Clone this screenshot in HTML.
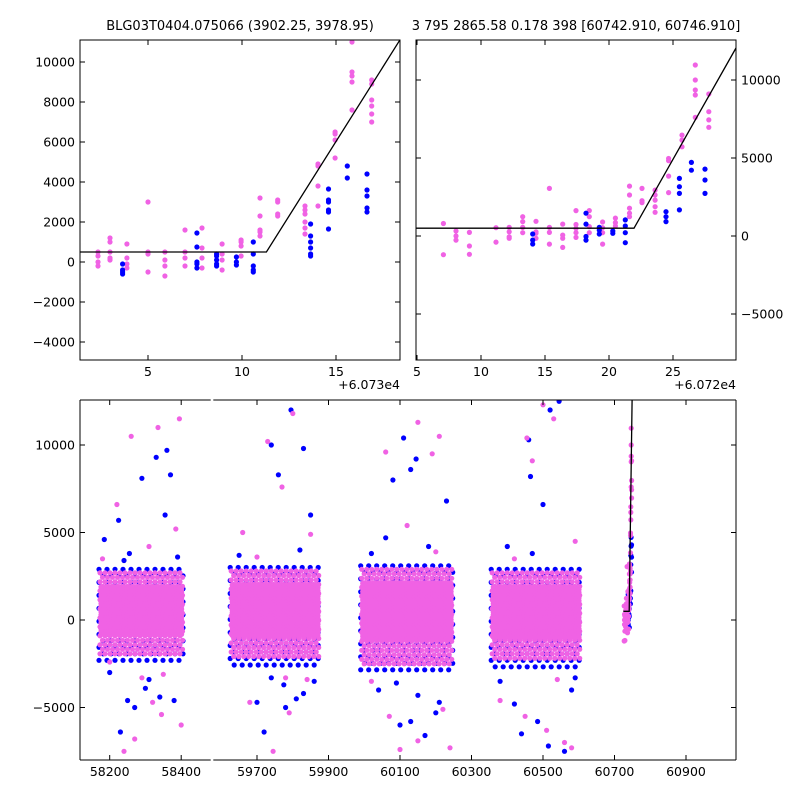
<!DOCTYPE html>
<html><head><meta charset="utf-8"><style>
html,body{margin:0;padding:0;background:#fff}
svg{display:block;font-family:"DejaVu Sans","Liberation Sans",sans-serif}
</style></head><body>
<svg id="fig" width="800" height="800" viewBox="0 0 800 800" xmlns="http://www.w3.org/2000/svg">
<rect width="800" height="800" fill="#fff"/>
<defs>
<clipPath id="cTL"><rect x="80" y="40" width="320" height="320"/></clipPath>
<clipPath id="cTR"><rect x="416" y="40" width="320" height="320"/></clipPath>
<clipPath id="cB"><rect x="80" y="400" width="656" height="360"/></clipPath>
</defs>
<text x="240" y="30" font-size="13" text-anchor="middle">BLG03T0404.075066 (3902.25, 3978.95)</text>
<text x="576" y="30" font-size="13" text-anchor="middle">3 795 2865.58 0.178 398 [60742.910, 60746.910]</text>
<g id="gTL"></g>
<g id="gTR"></g>
<g id="gB"></g>
</svg>
<script>
// ---- data: top-left zoom panel (offset 60730) ----
const tlPinkX=[2.34,2.98,3.88,5.0,5.9,6.97,7.87,8.94,9.95,10.96,11.9,13.35,14.04,14.95,15.85,16.9];
const tlPinkY=[[500,300,-200,0],[1200,1000,500,200,100],[900,200,-100,-300],[3000,500,400,-500],[500,100,-200,-700],[1600,500,200,-200],[1700,700,200,-300],[900,400,100,-400],[1100,1000,800,300],[3200,2300,1600,1500,1300],[3100,3000,2400,2300],[2800,2600,2400,2000,1700,1400],[4900,4800,3800,2800],[6500,6400,6100,5200],[11000,9500,9300,9000,7600],[9100,8900,8100,7800,7400,7000]];
const tlBlueX=[3.65,7.6,8.65,9.7,10.6,13.65,14.6,15.6,16.65];
const tlBlueY=[[-100,-400,-500,-600],[1450,750,0,-100,-300],[400,300,100,-100,-200],[250,0,-150],[1000,400,-200,-400,-500],[1900,1300,1000,700,400,300],[3650,3100,3000,2600,2500,1650],[4800,4200],[4400,3600,3300,2700,2500]];
const tlFit=[[1.38,500],[11.3,500],[18.4,11100]];
// ---- data: top-right zoom panel (offset 60720) ----
const trPinkX=[7.06,8.05,9.09,11.17,12.2,13.26,14.3,15.34,16.38,17.42,18.46,19.5,20.5,21.6,22.58,23.6,24.66,25.7,26.74,27.8];
const trPinkY=[[800,-1200],[320,0,-260],[230,-640,-1170],[530,-390],[550,270,-50,-150],[1240,920,550,210],[940,270,170,-150],[3050,550,230,-520],[760,60,-150,-730],[1630,740,490,210,-90],[1630,1240,600,210],[900,530,210,-520],[1150,860,640],[3200,2630,1780,1460,1240],[3050,2260,2140],[2940,2630,2300,1880,1520],[4970,4830,3840,2780],[6470,6150,5720],[10960,10000,9360,9040,7600],[9100,7970,7440,6970]];
const trBlueX=[14.04,18.2,19.24,20.3,21.27,24.45,25.5,26.44,27.5];
const trBlueY=[[130,-260,-510],[1460,760,-30,-260],[550,380,130],[320,170],[1030,640,210,-430],[1560,1240,920],[3690,3160,2730,1670],[4720,4220],[4290,3590,2730]];
const trFit=[[4.92,500],[21.95,500],[29.92,12050]];
// ---- data: bottom full light curve ----
const seasonStart=[58170,59625,59990,60355];
const seasonEnd=[58410,59880,60250,60610];
const coreLow=[-900,-1000,-1100,-1000];
const coreHigh=[1900,2000,2100,1900];
const haloLow=[-2000,-2300,-2500,-2200];
const haloHigh=[2700,2800,2900,2700];
const blueLow=[-2600,-2900,-3100,-2700];
const blueHigh=[2900,3000,3100,2900];
const outBlueX=[58185,58225,58255,58290,58330,58360,58370,58355,58340,58300,58250,58230,58270,58380,58200,58240,58310,58390,59720,59700,59740,59760,59795,59830,59850,59810,59830,59860,59775,59780,59650,59740,59820,60110,60145,60130,60080,60060,60100,60170,60200,60130,60230,60040,60210,60150,60020,60090,60180,60460,60520,60545,60465,60500,60440,60485,60515,60420,60560,60580,60400,60380,60470,60590];
const outBlueY=[4600,5700,3800,8100,9300,9700,8300,6000,-4400,-3900,-4600,-6400,-5000,-4600,-3000,3400,-3400,3600,-6400,-4700,10000,8300,12000,9800,6000,-4500,-4200,-3500,-3700,-5000,3700,-3300,4000,10400,9200,8600,8000,4700,-6000,-6600,-5300,-5800,6800,-4000,-4700,-4300,3800,-3600,4200,10300,12000,12500,8200,6600,-6500,-5800,-7200,-4800,-7500,-4000,4200,-3500,3800,-3300];
const outPinkX=[58260,58335,58395,58220,58310,58385,58240,58270,58345,58400,58320,58200,58290,58180,58350,59730,59770,59800,59745,59790,59680,59840,59660,59850,59700,59780,60150,60190,60210,60060,60100,60150,60240,60220,60070,60120,60020,60200,60455,60500,60530,60470,60450,60560,60580,60510,60380,60590,60420,60540];
const outPinkY=[10500,11000,11500,6600,4200,5200,-7500,-6800,-5400,-6000,-4700,-2400,-3300,3500,-3100,10200,7600,11800,-7500,-5300,-4700,-3400,5000,4900,3600,-3300,11300,9500,10500,9600,-7400,-6900,-7300,-5100,-5500,5400,-3500,3900,10400,12300,11500,9100,-5500,-7000,-7300,-6300,-4600,4500,3500,-3400];
const bFit=[[60724.9,500],[60741,500],[60749.5,13000]];

const NS='http://www.w3.org/2000/svg';
const BLUE='#0000ff', PINK='#f062e4';
function mk(tag,attrs,parent){const e=document.createElementNS(NS,tag);for(const k in attrs)e.setAttribute(k,attrs[k]);parent.appendChild(e);return e;}
function lin(d0,d1,p0,p1){return v=>p0+(v-d0)*(p1-p0)/(d1-d0);}

const tlX=lin(5,15,148,336), tlY=lin(0,10000,262,62);
const trX=lin(5,25,417,673), trY=lin(0,10000,236,80);
const bY=lin(0,10000,620,445);
const bX=v=> v<59000 ? 109.7+(v-58200)*0.3575 : 257+(v-59700)*0.3575;

function dot(g,x,y,c,name){const e=mk('circle',{cx:x.toFixed(1),cy:y.toFixed(1),r:2.6,fill:c},g);

return e;}

function frame(g,x0,y0,w,h){const r=mk('rect',{x:x0,y:y0,width:w,height:h,fill:'none',stroke:'#000','stroke-width':1},g);

}

function xticks(g,xs,labels,sc,y0,y1,ly){xs.forEach((v,i)=>{const x=sc(v);
mk('line',{x1:x,x2:x,y1:y1,y2:y1-5,stroke:'#000'},g);mk('line',{x1:x,x2:x,y1:y0,y2:y0+5,stroke:'#000'},g);
const t=mk('text',{x:x,y:ly,'font-size':12.5,'text-anchor':'middle'},g);t.textContent=labels[i];

});}
function yticks(g,ys,labels,sc,x0,x1,side){ys.forEach((v,i)=>{const y=sc(v);
mk('line',{x1:x0,x2:x0+5,y1:y,y2:y,stroke:'#000'},g);mk('line',{x1:x1,x2:x1-5,y1:y,y2:y,stroke:'#000'},g);
const t=mk('text',{x:side==='left'?x0-5:x1+5,y:y+4.5,'font-size':12.5,'text-anchor':side==='left'?'end':'start'},g);t.textContent=labels[i];

});}

function fitLine(g,pts,sx,sy){const p=mk('polyline',{points:pts.map(q=>sx(q[0]).toFixed(1)+','+sy(q[1]).toFixed(1)).join(' '),fill:'none',stroke:'#000','stroke-width':1.3},g);

}

function cols(g,X,Y,sx,sy,c,name){X.forEach((x,i)=>Y[i].forEach(y=>dot(g,sx(x),sy(y),c,name)));}

(function(){const g=document.getElementById('gTL');const d=mk('g',{'clip-path':'url(#cTL)'},g);
cols(d,tlPinkX,tlPinkY,tlX,tlY,PINK,'pink-point');cols(d,tlBlueX,tlBlueY,tlX,tlY,BLUE,'blue-point');
fitLine(d,tlFit,tlX,tlY);frame(g,80,40,320,320);
xticks(g,[5,10,15],['5','10','15'],tlX,40,360,376);
yticks(g,[-4000,-2000,0,2000,4000,6000,8000,10000],['\u22124000','\u22122000','0','2000','4000','6000','8000','10000'],tlY,80,400,'left');
const o=mk('text',{x:400,y:389,'font-size':12.5,'text-anchor':'end'},g);o.textContent='+6.073e4';

})();

(function(){const g=document.getElementById('gTR');const d=mk('g',{'clip-path':'url(#cTR)'},g);
cols(d,trPinkX,trPinkY,trX,trY,PINK,'pink-point');cols(d,trBlueX,trBlueY,trX,trY,BLUE,'blue-point');
fitLine(d,trFit,trX,trY);frame(g,416,40,320,320);
xticks(g,[5,10,15,20,25],['5','10','15','20','25'],trX,40,360,376);
yticks(g,[-5000,0,5000,10000],['\u22125000','0','5000','10000'],trY,416,736,'right');
const o=mk('text',{x:736,y:389,'font-size':12.5,'text-anchor':'end'},g);o.textContent='+6.072e4';

})();

(function(){const g=document.getElementById('gB');const d=mk('g',{'clip-path':'url(#cB)'},g);
seasonStart.forEach((s,i)=>{const x0=bX(s),x1=bX(seasonEnd[i]);let r=0;
 for(let y=bY(blueHigh[i]);y<=bY(blueLow[i]);y+=6.5,r++){for(let x=x0+(r%2)*4;x<=x1;x+=8){dot(d,x,y,BLUE,'blue-point');}}});
outBlueX.forEach((x,i)=>dot(d,bX(x),bY(outBlueY[i]),BLUE,'blue-point'));
seasonStart.forEach((s,i)=>{const x0=bX(s)+1,x1=bX(seasonEnd[i])-1;let r=0;
 for(let y=bY(haloHigh[i]);y<=bY(haloLow[i]);y+=4.5,r++){for(let x=x0+(r%2)*2.5;x<=x1;x+=5){dot(d,x,y,PINK,'pink-point');}}});
seasonStart.forEach((s,i)=>{const x0=bX(s)+2,x1=bX(seasonEnd[i])-2;
 for(let x=x0;x<=x1;x+=2.6){for(let y=bY(coreHigh[i]);y<=bY(coreLow[i]);y+=2.8){dot(d,x,y,PINK,'pink-point');}}});
outPinkX.forEach((x,i)=>dot(d,bX(x),bY(outPinkY[i]),PINK,'pink-point'));
cols(d,trBlueX.map(v=>v+60720),trBlueY,bX,bY,BLUE,'blue-point');
cols(d,trPinkX.map(v=>v+60720),trPinkY,bX,bY,PINK,'pink-point');
fitLine(d,bFit,bX,bY);
mk('line',{x1:80,x2:80,y1:400,y2:760,stroke:'#000'},g);mk('line',{x1:736,x2:736,y1:400,y2:760,stroke:'#000'},g);
[[80,210.7],[213.3,736]].forEach(s=>{mk('line',{x1:s[0],x2:s[1],y1:400,y2:400,stroke:'#000'},g);mk('line',{x1:s[0],x2:s[1],y1:760,y2:760,stroke:'#000'},g);});
xticks(g,[58200,58400,59700,59900,60100,60300,60500,60700,60900],['58200','58400','59700','59900','60100','60300','60500','60700','60900'],bX,400,760,776);
yticks(g,[-5000,0,5000,10000],['\u22125000','0','5000','10000'],bY,80,736,'left');})();
</script>
</body></html>
